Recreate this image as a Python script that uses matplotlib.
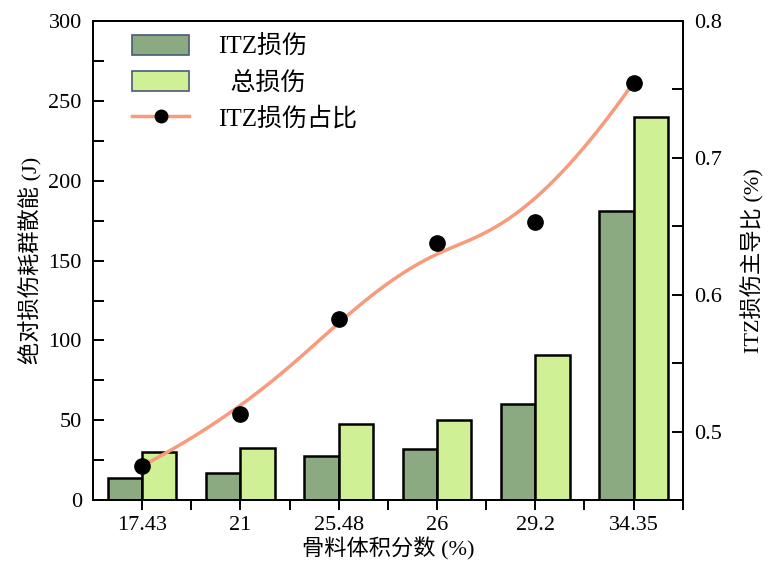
import numpy as np
import matplotlib.pyplot as plt
from matplotlib.patches import Patch
from matplotlib.lines import Line2D
from matplotlib.ticker import MultipleLocator

plt.rcParams['font.family'] = ['Liberation Serif', 'Noto Sans CJK SC']
plt.rcParams['font.size'] = 16

# data
volume_frac = ['17.43', '21', '25.48', '26', '29.2', '34.35']
itz_damage = [14, 17, 28, 32, 60, 181]
total_damage = [30, 33, 48, 50, 91, 240]
itz_ratio = [0.475, 0.513, 0.582, 0.638, 0.653, 0.755]


def bspline(px, py, n=300, k=3):
    # clamped B-spline using the points as control points
    m = len(px)
    inner = np.linspace(0, 1, m - k + 1)
    t = np.concatenate([[0] * k, inner, [1] * k])
    u = np.linspace(0, 1 - 1e-9, n)

    def basis(i, p, u):
        if p == 0:
            return ((t[i] <= u) & (u < t[i + 1])).astype(float)
        a = 0.0
        if t[i + p] != t[i]:
            a = (u - t[i]) / (t[i + p] - t[i]) * basis(i, p - 1, u)
        b = 0.0
        if t[i + p + 1] != t[i + 1]:
            b = (t[i + p + 1] - u) / (t[i + p + 1] - t[i + 1]) * basis(i + 1, p - 1, u)
        return a + b

    N = np.array([basis(i, k, u) for i in range(m)])
    return N.T @ np.asarray(px, float), N.T @ np.asarray(py, float)


x = np.arange(len(volume_frac))
w = 0.35

fig = plt.figure(figsize=(7.68, 5.64), dpi=100)
ax = fig.add_axes([0.121, 0.113, 0.768, 0.850])
ax2 = ax.twinx()

ax.bar(x - w / 2, itz_damage, w, color='#8BAA82', edgecolor='black', linewidth=1.8, zorder=2)
ax.bar(x + w / 2, total_damage, w, color='#CFF095', edgecolor='black', linewidth=1.8, zorder=2)

sx, sy = bspline(x, itz_ratio)
ax2.plot(sx, sy, color='#F99A7C', lw=2.5, zorder=3)
ax2.plot(x, itz_ratio, 'o', color='black', ms=11, zorder=4)

ax.set_xlim(-0.5, 5.5)
ax.set_ylim(0, 300)
ax2.set_ylim(0.45, 0.8)
ax.set_xticks(x)
ax.set_xticklabels(volume_frac)
ax.set_xticks(x + 0.5, minor=True)
ax.yaxis.set_major_locator(MultipleLocator(50))
ax.yaxis.set_minor_locator(MultipleLocator(25))
ax2.yaxis.set_major_locator(MultipleLocator(0.1))
ax2.yaxis.set_minor_locator(MultipleLocator(0.05))

ax.tick_params(axis='x', which='both', direction='out', length=7, width=1.4, pad=4)
ax.tick_params(axis='y', which='both', direction='in', length=8, width=1.4, pad=8)
ax2.tick_params(axis='y', which='both', direction='in', length=8, width=1.4, pad=8)
for a in (ax, ax2):
    for s in a.spines.values():
        s.set_linewidth(1.4)

ax.set_xlabel('骨料体积分数 (%)', labelpad=2)
ax.set_ylabel('绝对损伤耗群散能 (J)', labelpad=4)
ax2.set_ylabel('ITZ损伤主导比 (%)', labelpad=14)

handles = [
    Patch(facecolor='#8BAA82', edgecolor='#4A5A7A', linewidth=1.2),
    Patch(facecolor='#CFF095', edgecolor='#4A5A7A', linewidth=1.2),
    Line2D([], [], color='#F99A7C', lw=2.5, marker='o', mfc='black', mec='black', ms=9),
]
ax2.legend(handles, ['ITZ损伤', '  总损伤', 'ITZ损伤占比'], loc='upper left',
           bbox_to_anchor=(0.028, 1.018), frameon=False, fontsize=18,
           handlelength=2.3, handleheight=0.88, labelspacing=0.48, handletextpad=1.15)

fig.savefig('out.png', dpi=100)
